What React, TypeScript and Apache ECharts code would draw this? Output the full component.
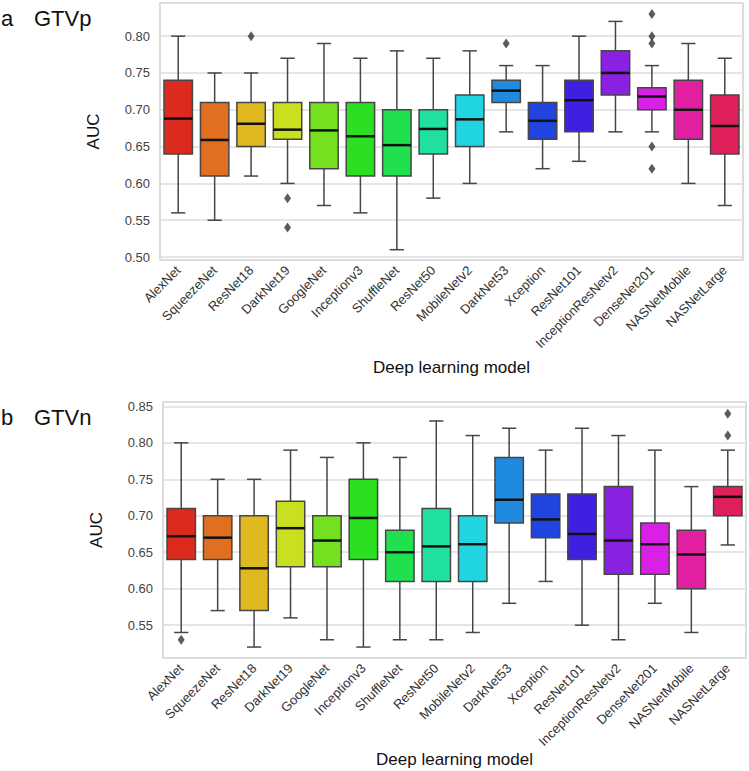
import React, { useEffect, useRef } from "react";
import * as echarts from "echarts";

const models = ["AlexNet", "SqueezeNet", "ResNet18", "DarkNet19", "GoogleNet", "Inceptionv3", "ShuffleNet", "ResNet50", "MobileNetv2", "DarkNet53", "Xception", "ResNet101", "InceptionResNetv2", "DenseNet201", "NASNetMobile", "NASNetLarge"];

// Panel a: GTVp
const gtvpLow = [0.56, 0.55, 0.61, 0.60, 0.57, 0.56, 0.51, 0.58, 0.60, 0.67, 0.62, 0.63, 0.67, 0.67, 0.60, 0.57];
const gtvpQ1 = [0.64, 0.61, 0.65, 0.66, 0.62, 0.61, 0.61, 0.64, 0.65, 0.71, 0.66, 0.67, 0.72, 0.70, 0.66, 0.64];
const gtvpMedian = [0.688, 0.659, 0.681, 0.673, 0.672, 0.664, 0.652, 0.674, 0.687, 0.726, 0.685, 0.713, 0.750, 0.718, 0.700, 0.678];
const gtvpQ3 = [0.74, 0.71, 0.71, 0.71, 0.71, 0.71, 0.70, 0.70, 0.72, 0.74, 0.71, 0.74, 0.78, 0.73, 0.74, 0.72];
const gtvpHigh = [0.80, 0.75, 0.75, 0.77, 0.79, 0.77, 0.78, 0.77, 0.78, 0.76, 0.76, 0.80, 0.82, 0.76, 0.79, 0.77];
const gtvpOutliers = [[2, 0.80], [3, 0.58], [3, 0.54], [9, 0.79], [13, 0.83], [13, 0.80], [13, 0.79], [13, 0.65], [13, 0.62]];

// Panel b: GTVn
const gtvnLow = [0.54, 0.57, 0.52, 0.56, 0.53, 0.52, 0.53, 0.53, 0.54, 0.58, 0.61, 0.55, 0.53, 0.58, 0.54, 0.66];
const gtvnQ1 = [0.64, 0.64, 0.57, 0.63, 0.63, 0.64, 0.61, 0.61, 0.61, 0.69, 0.67, 0.64, 0.62, 0.62, 0.60, 0.70];
const gtvnMedian = [0.672, 0.670, 0.628, 0.683, 0.666, 0.697, 0.650, 0.658, 0.661, 0.722, 0.695, 0.675, 0.666, 0.661, 0.647, 0.726];
const gtvnQ3 = [0.71, 0.70, 0.70, 0.72, 0.70, 0.75, 0.68, 0.71, 0.70, 0.78, 0.73, 0.73, 0.74, 0.69, 0.68, 0.74];
const gtvnHigh = [0.80, 0.75, 0.75, 0.79, 0.78, 0.80, 0.78, 0.83, 0.81, 0.82, 0.79, 0.82, 0.81, 0.79, 0.74, 0.79];
const gtvnOutliers = [[0, 0.53], [15, 0.84], [15, 0.81]];

const palette = ["#dd2a1e", "#e07020", "#e0b820", "#c8e020", "#74e020", "#2ae020", "#20e050", "#20e0a0", "#20d5e0", "#208ae0", "#2044e0", "#4020e0", "#8a20e0", "#d820e6", "#e020a0", "#e0205a"];

const FONT = "'Liberation Sans', Arial, sans-serif";

function rows(low: number[], q1: number[], med: number[], q3: number[], high: number[]) {
  return models.map((_, i) => [i, low[i], q1[i], med[i], q3[i], high[i]]);
}

function renderBox(params: any, api: any) {
  const i = api.value(0);
  const pLow = api.coord([i, api.value(1)]);
  const pQ1 = api.coord([i, api.value(2)]);
  const pMed = api.coord([i, api.value(3)]);
  const pQ3 = api.coord([i, api.value(4)]);
  const pHigh = api.coord([i, api.value(5)]);
  const band = api.size([1, 0])[0];
  const bw = band * 0.78;
  const cx = pQ1[0];
  const lineStyle = { stroke: "#464646", lineWidth: 1.5 };
  return {
    type: "group",
    children: [
      { type: "line", shape: { x1: cx, y1: pLow[1], x2: cx, y2: pQ1[1] }, style: lineStyle },
      { type: "line", shape: { x1: cx, y1: pHigh[1], x2: cx, y2: pQ3[1] }, style: lineStyle },
      { type: "line", shape: { x1: cx - bw / 4, y1: pLow[1], x2: cx + bw / 4, y2: pLow[1] }, style: lineStyle },
      { type: "line", shape: { x1: cx - bw / 4, y1: pHigh[1], x2: cx + bw / 4, y2: pHigh[1] }, style: lineStyle },
      {
        type: "rect",
        shape: { x: cx - bw / 2, y: pQ3[1], width: bw, height: pQ1[1] - pQ3[1] },
        style: { fill: palette[params.dataIndex], stroke: "#464646", lineWidth: 1.5 },
      },
      { type: "line", shape: { x1: cx - bw / 2, y1: pMed[1], x2: cx + bw / 2, y2: pMed[1] }, style: { stroke: "#111", lineWidth: 2.5 } },
    ],
  };
}

function yLabel(v: number) {
  const k = v * 20;
  return Math.abs(k - Math.round(k)) < 1e-6 ? v.toFixed(2) : "";
}

export default function App() {
  const ref = useRef<HTMLDivElement>(null);
  useEffect(() => {
    if (!ref.current) return;
    const chart = echarts.init(ref.current, undefined, { renderer: "svg" });
    const gridCommon = { show: true, borderColor: "#d0d0d0", borderWidth: 1.5, backgroundColor: "#fff" };
    const xAxisCommon = {
      type: "category",
      data: models,
      axisTick: { show: false },
      axisLine: { show: false },
      splitLine: { show: false },
      axisLabel: { rotate: 45, fontSize: 13, color: "#333", fontFamily: FONT, margin: 8, interval: 0 },
      name: "Deep learning model",
      nameLocation: "middle",
      nameTextStyle: { fontSize: 17, color: "#111", fontFamily: FONT },
    };
    const yAxisCommon = {
      type: "value",
      splitNumber: 7,
      axisTick: { show: false },
      axisLine: { show: false },
      splitLine: { show: true, lineStyle: { color: "#dcdcdc", width: 1.5 } },
      axisLabel: { fontSize: 13, color: "#444", fontFamily: FONT, margin: 10, formatter: yLabel },
      name: "AUC",
      nameLocation: "middle",
      nameGap: 58,
      nameTextStyle: { fontSize: 17, color: "#111", fontFamily: FONT },
    };
    chart.setOption({
      animation: false,
      backgroundColor: "#fff",
      grid: [
        { ...gridCommon, left: 160, top: 3, width: 583, height: 257 },
        { ...gridCommon, left: 163, top: 402, width: 583, height: 256 },
      ],
      xAxis: [
        { ...xAxisCommon, gridIndex: 0, nameGap: 99 },
        { ...xAxisCommon, gridIndex: 1, nameGap: 89 },
      ],
      yAxis: [
        { ...yAxisCommon, gridIndex: 0, min: 0.496, max: 0.845 },
        { ...yAxisCommon, gridIndex: 1, min: 0.505, max: 0.856 },
      ],
      graphic: [
        { type: "text", left: 1, top: 7, style: { text: "a", fontSize: 22, fill: "#111", fontFamily: FONT } },
        { type: "text", left: 34, top: 7, style: { text: "GTVp", fontSize: 22, fill: "#111", fontFamily: FONT } },
        { type: "text", left: 1, top: 406, style: { text: "b", fontSize: 22, fill: "#111", fontFamily: FONT } },
        { type: "text", left: 34, top: 406, style: { text: "GTVn", fontSize: 22, fill: "#111", fontFamily: FONT } },
      ],
      series: [
        {
          type: "custom",
          xAxisIndex: 0,
          yAxisIndex: 0,
          renderItem: renderBox,
          encode: { x: 0, y: [1, 2, 3, 4, 5] },
          data: rows(gtvpLow, gtvpQ1, gtvpMedian, gtvpQ3, gtvpHigh),
          z: 3,
        },
        {
          type: "scatter",
          xAxisIndex: 0,
          yAxisIndex: 0,
          symbol: "diamond",
          symbolSize: [7, 10],
          itemStyle: { color: "#333" },
          data: gtvpOutliers,
          z: 4,
        },
        {
          type: "custom",
          xAxisIndex: 1,
          yAxisIndex: 1,
          renderItem: renderBox,
          encode: { x: 0, y: [1, 2, 3, 4, 5] },
          data: rows(gtvnLow, gtvnQ1, gtvnMedian, gtvnQ3, gtvnHigh),
          z: 3,
        },
        {
          type: "scatter",
          xAxisIndex: 1,
          yAxisIndex: 1,
          symbol: "diamond",
          symbolSize: [7, 10],
          itemStyle: { color: "#333" },
          data: gtvnOutliers,
          z: 4,
        },
      ],
    });
    return () => chart.dispose();
  }, []);
  return <div ref={ref} style={{ position: "fixed", left: 0, top: 0, width: 749, height: 771, background: "#fff" }} />;
}
